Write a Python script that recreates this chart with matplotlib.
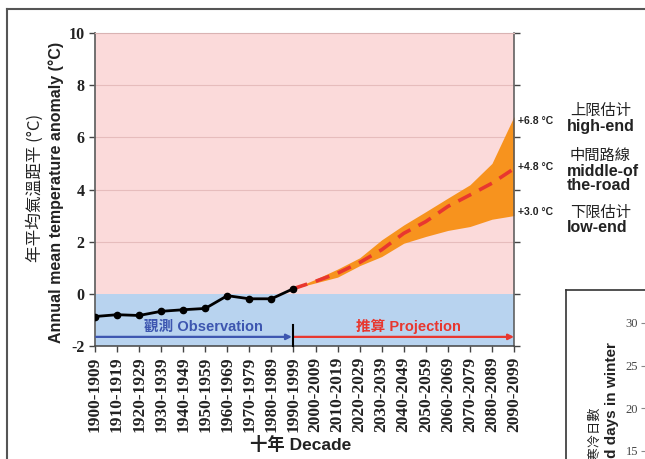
import matplotlib
matplotlib.use("Agg")
import matplotlib.pyplot as plt
from matplotlib.lines import Line2D

# ---------------- data ----------------
decades = ["1900-1909", "1910-1919", "1920-1929", "1930-1939", "1940-1949",
           "1950-1959", "1960-1969", "1970-1979", "1980-1989", "1990-1999",
           "2000-2009", "2010-2019", "2020-2029", "2030-2039", "2040-2049",
           "2050-2059", "2060-2069", "2070-2079", "2080-2089", "2090-2099"]
obs_values = [-0.87, -0.80, -0.83, -0.67, -0.61, -0.56, -0.07, -0.19, -0.19, 0.20]
proj_median = [0.20, 0.48, 0.79, 1.20, 1.69, 2.32, 2.77, 3.35, 3.79, 4.24, 4.80]
proj_upper = [0.20, 0.56, 0.95, 1.38, 2.07, 2.64, 3.15, 3.67, 4.18, 5.00, 6.80]
proj_lower = [0.20, 0.42, 0.64, 1.08, 1.43, 1.94, 2.20, 2.43, 2.58, 2.86, 3.00]
yticks = [-2, 0, 2, 4, 6, 8, 10]
end_labels = ["+6.8 °C", "+4.8 °C", "+3.0 °C"]
scen_cn = ["上限估计", "中間路線", "下限估计"]
scen_en = [["high-end"], ["middle-of", "the-road"], ["low-end"]]
inset_ticks = [15, 20, 25, 30]

W, H = 645, 459
fig = plt.figure(figsize=(W / 100, H / 100), dpi=100)

def fx(px):
    return px / W

def fy(py):
    return 1 - py / H

CJK = ["Noto Sans CJK TC", "DejaVu Sans"]
SANS = ["Liberation Sans", "Noto Sans CJK TC", "DejaVu Sans"]
SERIF = ["Liberation Serif", "DejaVu Serif"]

pink = "#fbdada"
blue = "#b8d3ef"
obs_blue = "#3d56b0"
red = "#e8372f"
orange = "#f7931e"
txt = "#222222"

# ---------------- main axes ----------------
ax = fig.add_axes([fx(95), fy(346), fx(514) - fx(95), (346 - 33) / H])
ax.set_xlim(0, len(decades) - 1)
ax.set_ylim(-2, 10)
ax.axhspan(0, 10, color=pink, zorder=0, lw=0)
ax.axhspan(-2, 0, color=blue, zorder=0, lw=0)
for g in [2, 4, 6, 8]:
    ax.axhline(g, color="#e6bcbc", lw=0.8, zorder=0.5)

ax.spines["left"].set_color("#666666")
ax.spines["left"].set_linewidth(1.3)
ax.spines["right"].set_color("#555555")
ax.spines["right"].set_linewidth(1.1)
ax.spines["bottom"].set_color("#444444")
ax.spines["bottom"].set_linewidth(1.1)
ax.spines["top"].set_color("#d9b3b3")
ax.spines["top"].set_linewidth(0.8)

ax.set_yticks(yticks)
ax.set_yticklabels([str(t) for t in yticks], fontfamily=SERIF,
                   fontweight="bold", fontsize=11.5, color=txt)
ax.set_xticks(range(len(decades)))
ax.set_xticklabels(decades, rotation=90, fontfamily=SERIF,
                   fontweight="bold", fontsize=12.5, color=txt)
ax.tick_params(axis="both", direction="out", length=4, width=1, color="#444444")
ax.tick_params(axis="y", right=True, labelright=False)

# band and median projection
proj_x = list(range(9, 9 + len(proj_median)))
ax.fill_between(proj_x, proj_lower, proj_upper, color=orange, lw=0, zorder=2)
ax.plot(proj_x, proj_median, color=red, lw=2.6, dashes=(4, 2.5), zorder=3)

# observations
obs_x = list(range(len(obs_values)))
ax.plot(obs_x, obs_values, color="black", lw=2, marker="o", ms=4.5, zorder=4)

# arrows
arrow_y = -1.65
ax.annotate("", xy=(8.93, arrow_y), xytext=(0.05, arrow_y),
            arrowprops=dict(arrowstyle="-|>", color=obs_blue, lw=1.6,
                            mutation_scale=8, shrinkA=0, shrinkB=0), zorder=5)
ax.annotate("", xy=(19, arrow_y), xytext=(9, arrow_y),
            arrowprops=dict(arrowstyle="-|>", color=red, lw=1.6,
                            mutation_scale=8, shrinkA=0, shrinkB=0),
            annotation_clip=False, zorder=5)
ax.plot([9, 9], [-1.2, -2], color="black", lw=1.5, zorder=6, clip_on=False)
ax.text(4.9, -1.26, "觀測 Observation", color=obs_blue, fontsize=10.5,
        fontweight="bold", family=SANS, ha="center", va="center", zorder=6)
ax.text(14.2, -1.26, "推算 Projection", color=red, fontsize=10.5,
        fontweight="bold", family=SANS, ha="center", va="center", zorder=6)

# axis labels
fig.text(fx(35), fy(188), "年平均氣溫距平 (°C)", rotation=90, family=CJK,
         fontsize=12, color=txt, ha="center", va="center")
fig.text(fx(56), fy(192), "Annual mean temperature anomaly (°C)", rotation=90,
         family=SANS, fontsize=11.5, fontweight="bold", color=txt,
         ha="center", va="center")
fig.text(fx(301), fy(445), "十年 Decade", family=SANS, fontsize=12.5,
         fontweight="bold", color=txt, ha="center", va="center")

# right-side scenario annotations
end_y = [121, 167, 212]
cn_y = [110, 155, 212]
en_y = [[127], [171, 186], [228]]
for lab, yy in zip(end_labels, end_y):
    fig.text(fx(518), fy(yy), lab, family=SANS, fontsize=7.5, fontweight="bold",
             color=txt, ha="left", va="center")
for lab, yy in zip(scen_cn, cn_y):
    fig.text(fx(570), fy(yy), lab, family=CJK, fontsize=11, color=txt,
             ha="left", va="center")
for labs, yys in zip(scen_en, en_y):
    for lab, yy in zip(labs, yys):
        fig.text(fx(567), fy(yy), lab, family=SANS, fontsize=11.5,
                 fontweight="bold", color=txt, ha="left", va="center")

# ---------------- outer frame ----------------
fig.add_artist(Line2D([fx(7), fx(7)], [fy(H + 10), fy(9)], color="#555555",
                      lw=1.5, transform=fig.transFigure))
fig.add_artist(Line2D([fx(7), fx(W + 10)], [fy(9), fy(9)], color="#555555",
                      lw=1.5, transform=fig.transFigure))

# ---------------- partial inset chart ----------------
fig.add_artist(Line2D([fx(566), fx(566)], [fy(H + 10), fy(290)], color="#333333",
                      lw=1.2, transform=fig.transFigure))
fig.add_artist(Line2D([fx(566), fx(W + 10)], [fy(290), fy(290)], color="#333333",
                      lw=1.2, transform=fig.transFigure))
top_px, bot_px = 300, 520
px_per_unit = (451 - 323) / 15.0
ax2 = fig.add_axes([fx(645), fy(bot_px), 0.2, (bot_px - top_px) / H])
ax2.set_ylim(15 - (bot_px - 451) / px_per_unit, 30 + (323 - top_px) / px_per_unit)
ax2.set_xlim(0, 1)
for s in ax2.spines.values():
    s.set_visible(False)
ax2.set_xticks([])
ax2.set_yticks(inset_ticks)
ax2.set_yticklabels([str(t) for t in inset_ticks], family=SERIF, fontsize=9,
                    color="#444444")
ax2.tick_params(axis="y", direction="out", length=3, color="#888888", pad=2)
ax2.patch.set_visible(False)
fig.text(fx(612), fy(342), "Number of cold days in winter", rotation=90,
         rotation_mode="anchor", family=SANS, fontsize=11, fontweight="bold",
         color=txt, ha="right", va="center")
fig.text(fx(595), fy(406), "冬天寒冷日數", rotation=90, rotation_mode="anchor",
         family=CJK, fontsize=9.5, color=txt, ha="right", va="center")

fig.savefig("out.png", dpi=100)
